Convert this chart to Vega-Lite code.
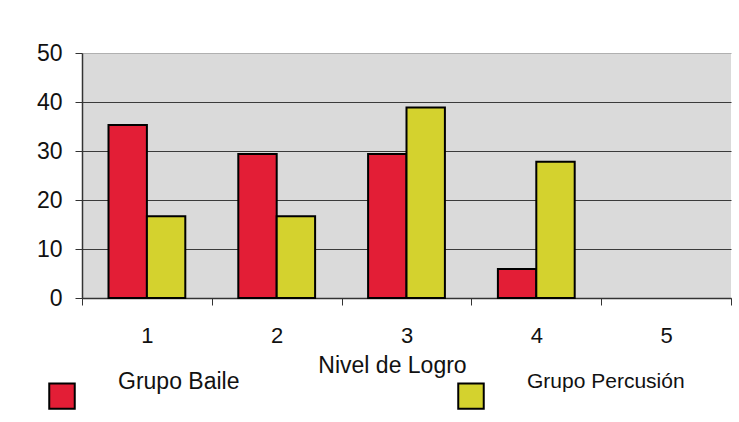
{
  "$schema": "https://vega.github.io/schema/vega-lite/v6.json",
  "width": 649,
  "height": 245,
  "autosize": {"type": "none"},
  "padding": {"left": 82, "top": 53, "right": 8, "bottom": 124},
  "background": "white",
  "config": {
    "font": "Arial, Liberation Sans, sans-serif",
    "view": {"fill": "#dadada", "stroke": null}
  },
  "data": {
    "values": [
      {"nivel": 1, "grupo": "Grupo Baile", "valor": 35.3},
      {"nivel": 2, "grupo": "Grupo Baile", "valor": 29.4},
      {"nivel": 3, "grupo": "Grupo Baile", "valor": 29.4},
      {"nivel": 4, "grupo": "Grupo Baile", "valor": 5.9},
      {"nivel": 1, "grupo": "Grupo Percusión", "valor": 16.7},
      {"nivel": 2, "grupo": "Grupo Percusión", "valor": 16.7},
      {"nivel": 3, "grupo": "Grupo Percusión", "valor": 38.9},
      {"nivel": 4, "grupo": "Grupo Percusión", "valor": 27.8}
    ]
  },
  "mark": {"type": "bar", "stroke": "black", "strokeWidth": 2, "opacity": 1},
  "encoding": {
    "x": {
      "field": "nivel",
      "type": "ordinal",
      "scale": {"domain": [1, 2, 3, 4, 5], "paddingInner": 0, "paddingOuter": 0},
      "axis": {
        "title": "Nivel de Logro",
        "titleFontSize": 23,
        "titleFontWeight": "normal",
        "titleColor": "#111",
        "titleX": 310,
        "titlePadding": 8,
        "labelAngle": 0,
        "labelFontSize": 22,
        "labelColor": "#111",
        "labelPadding": 20,
        "tickBand": "extent",
        "tickColor": "#333",
        "tickSize": 7,
        "domainColor": "#333",
        "domainWidth": 1.5
      }
    },
    "xOffset": {
      "field": "grupo",
      "type": "nominal",
      "scale": {"domain": ["Grupo Baile", "Grupo Percusión"], "paddingInner": 0, "paddingOuter": 0.69}
    },
    "y": {
      "field": "valor",
      "type": "quantitative",
      "scale": {"domain": [0, 50], "nice": false},
      "axis": {
        "title": null,
        "values": [0, 10, 20, 30, 40, 50],
        "labelFontSize": 23,
        "labelColor": "#111",
        "labelPadding": 13,
        "tickColor": "#333",
        "tickSize": 7,
        "domainColor": "#333",
        "domainWidth": 1.5,
        "grid": true,
        "gridColor": {"condition": {"test": "datum.value === 50", "value": "#b0b0b0"}, "value": "#3a3a3a"},
        "gridWidth": 1.2
      }
    },
    "color": {
      "field": "grupo",
      "type": "nominal",
      "scale": {"domain": ["Grupo Baile", "Grupo Percusión"], "range": ["#e31e36", "#d4d22e"]},
      "legend": {
        "title": null,
        "orient": "none",
        "direction": "horizontal",
        "legendX": -34,
        "legendY": 329,
        "padding": 0,
        "symbolType": "square",
        "symbolSize": 650,
        "symbolStrokeColor": "black",
        "symbolStrokeWidth": 2,
        "symbolOpacity": 1,
        "labelOffset": 42,
        "labelFontSize": 22,
        "labelColor": "#111",
        "labelLimit": 300,
        "columnPadding": 214,
        "encode": {
          "labels": {
            "update": {
              "dy": {"value": -14},
              "fontSize": {"signal": "datum.label === 'Grupo Baile' ? 23 : 21"}
            }
          }
        }
      }
    }
  }
}
